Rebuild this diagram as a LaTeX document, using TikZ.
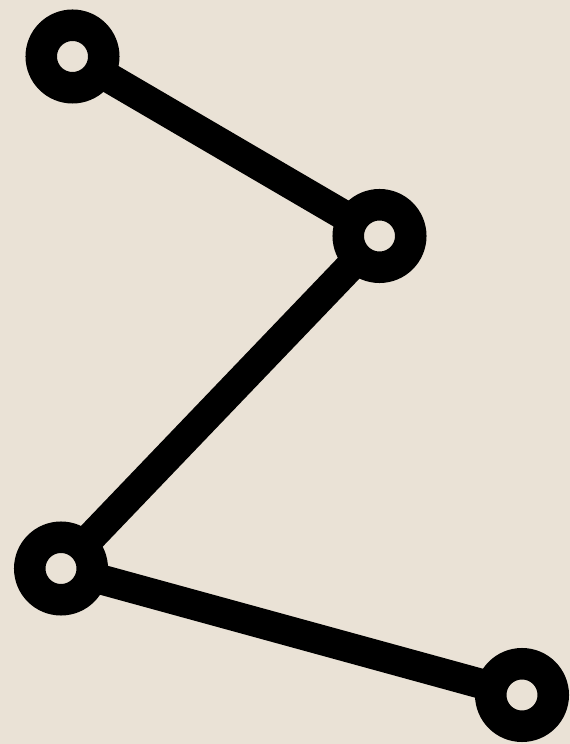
\documentclass[tikz,border=0pt]{standalone}
\definecolor{paper}{RGB}{234,226,214}

\begin{document}
\begin{tikzpicture}[x=1pt, y=1pt,
  ring/.style={circle, draw=black, line width=31.5pt, fill=paper, inner sep=0pt, outer sep=0pt, minimum size=62.5pt},
  link/.style={line width=30pt, black}]

\fill [paper] (0,0) rectangle (570,744);

\node [ring] (p1) at (72.5,687.5) {};
\node [ring] (p2) at (379.5,508) {};
\node [ring] (p3) at (61,175.5) {};
\node [ring] (p4) at (522,49) {};

\draw [link] (p1) -- (p2);
\draw [link] (p2) -- (p3);
\draw [link] (p3) -- (p4);

\end{tikzpicture}
\end{document}
